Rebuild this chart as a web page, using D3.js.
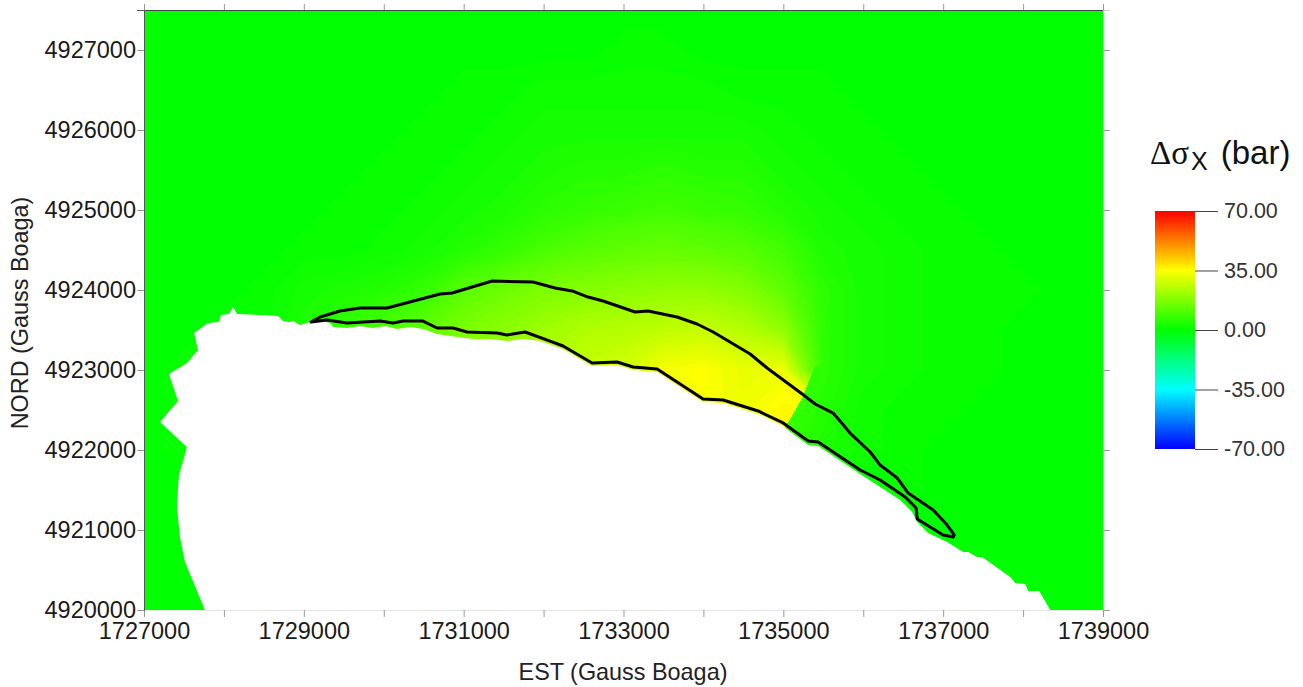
<!DOCTYPE html>
<html>
<head>
<meta charset="utf-8">
<script src="https://cdnjs.cloudflare.com/ajax/libs/d3/7.8.5/d3.min.js"></script>
<style>
  html, body { margin: 0; padding: 0; background: #fff; }
  svg { display: block; font-family: "Liberation Sans", Arial, sans-serif; }
</style>
</head>
<body>
<div id="chart"></div>
<script>
// map extent and tick values
var xDomain = [1727000, 1739000];
var yDomain = [4920000, 4927500];
var xTicks = [1727000, 1728000, 1729000, 1730000, 1731000, 1732000, 1733000, 1734000, 1735000, 1736000, 1737000, 1738000, 1739000];
var xTickLabels = [1727000, 1729000, 1731000, 1733000, 1735000, 1737000, 1739000];
var yTicks = [4920000, 4921000, 4922000, 4923000, 4924000, 4925000, 4926000, 4927000];
var legendTicks = [70, 35, 0, -35, -70];

// stress field in bar: 500 m grid, top row first
var gridX = [1727000, 1727500, 1728000, 1728500, 1729000, 1729500, 1730000, 1730500, 1731000, 1731500, 1732000, 1732500, 1733000, 1733500, 1734000, 1734500, 1735000, 1735500, 1736000, 1736500, 1737000, 1737500, 1738000, 1738500, 1739000];
var gridY = [4927500, 4927000, 4926500, 4926000, 4925500, 4925000, 4924500, 4924000, 4923500, 4923000, 4922500, 4922000, 4921500, 4921000, 4920500, 4920000];
var fieldValues = [
  [0, 0, 0, 0, 0, 0, 0, 0, 0, 0, 0, 0, 0, 0, 0, 0, 0, 0, 0, 0, 0, 0, 0, 0, 0],
  [0, 0, 0, 0, 0, 0, 0, 0, 0, 0, 0, 0, 1, 1, 0, 0, 0, 0, 0, 0, 0, 0, 0, 0, 0],
  [0, 0, 0, 0, 0, 0, 0, 0, 1, 1, 2, 2, 2, 2, 2, 1, 1, 1, 0, 0, 0, 0, 0, 0, 0],
  [0, 0, 0, 0, 0, 0, 0, 1, 1, 2, 3, 3, 3, 3, 3, 3, 2, 1, 1, 0, 0, 0, 0, 0, 0],
  [0, 0, 0, 0, 0, 0, 1, 1, 2, 3, 4, 5, 5, 6, 5, 5, 3, 2, 1, 1, 0, 0, 0, 0, 0],
  [0, 0, 0, 0, 0, 1, 1, 2, 3, 4, 6, 7, 8, 9, 8, 7, 5, 3, 2, 1, 1, 0, 0, 0, 0],
  [0, 0, 0, 0, 1, 1, 2, 3, 5, 7, 10, 12, 13, 14, 13, 12, 9, 4, 3, 2, 1, 1, 0, 0, 0],
  [0, 0, 0, 1, 3, 4, 5, 7, 12, 15, 17, 18, 19, 20, 20, 18, 13, 6, 3, 2, 1, 1, 1, 0, 0],
  [0, 0, 1, 1, 4, 7, 10, 13, 17, 19, 22, 24, 25, 26, 27, 25, 20, 6, 3, 2, 1, 1, 0, 0, 0],
  [0, 1, 2, 4, 7, 10, 12, 15, 18, 21, 24, 27, 29, 34, 35, 32, 33, 6, 3, 2, 1, 1, 0, 0, 0],
  [0, 1, 2, 4, 8, 10, 12, 15, 18, 21, 24, 27, 30, 33, 34, 33, 36, 34, 3, 1, 1, 1, 0, 0, 0],
  [0, 1, 2, 4, 8, 10, 12, 15, 18, 21, 24, 27, 30, 33, 34, 34, 36, 34, 2, 1, 1, 0, 0, 0, 0],
  [0, 0, 1, 2, 4, 6, 8, 10, 12, 14, 16, 18, 20, 20, 20, 20, 20, 20, 2, 1, 0, 0, 0, 0, 0],
  [0, 0, 0, 1, 2, 3, 4, 5, 6, 7, 8, 8, 8, 8, 8, 8, 8, 8, 1, 0, 0, 0, 0, 0, 0],
  [0, 0, 0, 0, 0, 0, 0, 0, 0, 0, 0, 0, 0, 0, 0, 0, 0, 0, 0, 0, 0, 0, 0, 0, 0],
  [0, 0, 0, 0, 0, 0, 0, 0, 0, 0, 0, 0, 0, 0, 0, 0, 0, 0, 0, 0, 0, 0, 0, 0, 0]
];

// the part east of the sharp edge near 1735200, drawn over the main field
var eastGridX = [1734500, 1735000, 1735500, 1736000, 1736500, 1737000, 1737500, 1738000, 1738500, 1739000];
var eastGridY = [4923500, 4923000, 4922500, 4922000, 4921500, 4921000, 4920500, 4920000];
var eastValues = [
  [6, 6, 5, 3, 2, 1, 1, 0, 0, 0],
  [7, 7, 6, 3, 2, 1, 1, 0, 0, 0],
  [8, 8, 5, 2, 1, 1, 0, 0, 0, 0],
  [8, 7, 4, 2, 1, 0, 0, 0, 0, 0],
  [6, 5, 3, 1, 1, 0, 0, 0, 0, 0],
  [3, 3, 2, 1, 0, 0, 0, 0, 0, 0],
  [0, 0, 0, 0, 0, 0, 0, 0, 0, 0],
  [0, 0, 0, 0, 0, 0, 0, 0, 0, 0]
];
var eastEdge = [[1735400, 4923050], [1735248, 4922662], [1735085, 4922375], [1734900, 4922100], [1734800, 4920000], [1739000, 4920000], [1739000, 4923050]];

// coast line (white land polygon), west to east
var coastLine = [
  [1727763, 4920000], [1727513, 4920600], [1727451, 4920900], [1727413, 4921288], [1727426, 4921538], [1727438, 4921688],
  [1727538, 4922038], [1727200, 4922350], [1727426, 4922612], [1727313, 4922950], [1727538, 4923088], [1727676, 4923250],
  [1727626, 4923462], [1727801, 4923588], [1727939, 4923600], [1727964, 4923688], [1728064, 4923700], [1728114, 4923788],
  [1728164, 4923700], [1728477, 4923688], [1728677, 4923675], [1728740, 4923612], [1728827, 4923600], [1728865, 4923612],
  [1728952, 4923562], [1729078, 4923600], [1729228, 4923612], [1729328, 4923588], [1729366, 4923538], [1729541, 4923525],
  [1729703, 4923550], [1729866, 4923525], [1730016, 4923550], [1730167, 4923512], [1730329, 4923538], [1730492, 4923512],
  [1730667, 4923450], [1730917, 4923412], [1731118, 4923388], [1731331, 4923388], [1731543, 4923362], [1731744, 4923388],
  [1731956, 4923362], [1732244, 4923262], [1732607, 4923050], [1732920, 4923062], [1733120, 4923000], [1733421, 4922975],
  [1733996, 4922600], [1734247, 4922588], [1734685, 4922450], [1734998, 4922300], [1735123, 4922200], [1735311, 4922062],
  [1735436, 4922050], [1735962, 4921700], [1736462, 4921375], [1736612, 4921225], [1736675, 4921100], [1736813, 4920962],
  [1737050, 4920850], [1737251, 4920725], [1737313, 4920725], [1737426, 4920662], [1737488, 4920662], [1737839, 4920412],
  [1737901, 4920338], [1738027, 4920325], [1738064, 4920238], [1738202, 4920238], [1738340, 4920000]
];

// black outline of the area, tip then upper side then lower side back
var areaOutline = [
  [1729090, 4923600], [1729203, 4923662], [1729453, 4923738], [1729703, 4923775], [1730041, 4923775], [1730705, 4923950],
  [1730855, 4923962], [1731356, 4924112], [1731869, 4924100], [1732144, 4924025], [1732357, 4923988], [1732557, 4923912],
  [1732745, 4923862], [1733145, 4923725], [1733308, 4923738], [1733671, 4923662], [1733921, 4923575], [1734122, 4923475],
  [1734585, 4923200], [1734797, 4923025], [1735236, 4922700], [1735398, 4922575], [1735624, 4922462], [1735836, 4922212],
  [1736087, 4921975], [1736212, 4921812], [1736425, 4921650], [1736562, 4921462], [1736875, 4921250], [1737050, 4921062],
  [1737138, 4920938], [1737126, 4920912], [1737000, 4920938], [1736675, 4921138], [1736662, 4921275], [1736525, 4921412],
  [1736212, 4921625], [1735962, 4921750], [1735436, 4922100], [1735311, 4922112], [1734998, 4922338], [1734685, 4922488],
  [1734247, 4922625], [1733996, 4922638], [1733421, 4923012], [1733120, 4923038], [1732920, 4923100], [1732607, 4923088],
  [1732244, 4923300], [1732081, 4923362], [1731769, 4923475], [1731543, 4923438], [1731418, 4923462], [1731043, 4923475],
  [1730867, 4923525], [1730667, 4923525], [1730492, 4923612], [1730242, 4923612], [1730116, 4923588], [1729954, 4923612],
  [1729541, 4923588], [1729290, 4923625]
];

// set the svg area and the plot margins
var svgWidth = 1303;
var svgHeight = 687;
var margin = { top: 10, right: 200, bottom: 77, left: 144 };
var width = svgWidth - margin.left - margin.right;
var height = svgHeight - margin.top - margin.bottom;

var svg = d3.select("#chart")
  .append("svg")
  .attr("width", svgWidth)
  .attr("height", svgHeight);

var xScale = d3.scaleLinear().domain(xDomain).range([0, width]);
var yScale = d3.scaleLinear().domain(yDomain).range([height, 0]);

// green at zero, yellow at 35, the usual rainbow
var colorScale = d3.scaleLinear()
  .domain([-70, -35, 0, 35, 70])
  .range(["#0000ff", "#00ffff", "#00ff00", "#ffff00", "#ff0000"]);

var defs = svg.append("defs");
defs.append("clipPath").attr("id", "plotClip")
  .append("rect").attr("width", width).attr("height", height);
defs.append("clipPath").attr("id", "eastClip")
  .append("polygon")
  .attr("points", eastEdge.map(d => [xScale(d[0]), yScale(d[1])].join(",")).join(" "));

var chartGroup = svg.append("g")
  .attr("transform", `translate(${margin.left}, ${margin.top})`);

// draw one value table as filled contour bands
function drawField(parent, xs, ys, rows) {
  // one extra row/column on each side so the bands run past the plot edge
  var nx = xs.length + 2;
  var ny = ys.length + 2;
  var flat = [];
  for (var j = -1; j <= ys.length; j++) {
    var row = rows[Math.max(0, Math.min(ys.length - 1, j))];
    for (var i = -1; i <= xs.length; i++) {
      flat.push(row[Math.max(0, Math.min(xs.length - 1, i))]);
    }
  }
  var stepX = xs[1] - xs[0];
  var stepY = ys[1] - ys[0];
  var bands = d3.contours().size([nx, ny]).thresholds(d3.range(0.5, 37, 1))(flat);
  // contour coordinates have the grid node at index + 0.5
  var project = d3.geoTransform({
    point: function(x, y) {
      this.stream.point(xScale(xs[0] + (x - 1.5) * stepX), yScale(ys[0] + (y - 1.5) * stepY));
    }
  });
  parent.selectAll("path")
    .data(bands)
    .enter()
    .append("path")
    .attr("d", d3.geoPath(project))
    .attr("fill", d => colorScale(d.value + 0.5));
}

var fieldGroup = chartGroup.append("g")
  .attr("clip-path", "url(#plotClip)")
  .style("filter", "blur(0.6px)");

fieldGroup.append("rect")
  .attr("width", width)
  .attr("height", height)
  .attr("fill", colorScale(0));

drawField(fieldGroup.append("g"), gridX, gridY, fieldValues);

var eastGroup = fieldGroup.append("g").attr("clip-path", "url(#eastClip)");
eastGroup.append("rect")
  .attr("width", width)
  .attr("height", height)
  .attr("fill", colorScale(0));
drawField(eastGroup.append("g"), eastGridX, eastGridY, eastValues);

// land on top of the field
var lineGen = d3.line().x(d => xScale(d[0])).y(d => yScale(d[1]));

chartGroup.append("path")
  .attr("d", lineGen(coastLine) + "Z")
  .attr("fill", "#fff");

chartGroup.append("path")
  .attr("d", lineGen(areaOutline) + "Z")
  .attr("fill", "none")
  .attr("stroke", "#000")
  .attr("stroke-width", 3)
  .attr("stroke-linejoin", "round");

// axes
var bottomAxis = d3.axisBottom(xScale)
  .tickValues(xTicks)
  .tickSize(7)
  .tickPadding(5)
  .tickFormat(d => xTickLabels.indexOf(d) >= 0 ? d3.format("d")(d) : "");
var topAxis = d3.axisTop(xScale).tickValues(xTicks).tickSize(6).tickFormat("");
var leftAxis = d3.axisLeft(yScale)
  .tickValues(yTicks)
  .tickSize(7)
  .tickPadding(1)
  .tickFormat(d3.format("d"));
var rightAxis = d3.axisRight(yScale).tickValues(yTicks).tickSize(7).tickFormat("");

function styleAxis(g, domainColor) {
  g.select(".domain").attr("stroke", domainColor).attr("stroke-width", 1);
  g.selectAll(".tick line").attr("stroke", "#999");
  g.selectAll(".tick text")
    .attr("font-family", '"Liberation Sans", Arial, sans-serif')
    .attr("font-size", "23.5px")
    .attr("fill", "#1a1a1a");
}

chartGroup.append("g").attr("transform", `translate(0, ${height})`).call(bottomAxis).call(styleAxis, "#e4e4e4");
chartGroup.append("g").call(topAxis).call(styleAxis, "#444");
chartGroup.append("g").call(leftAxis).call(styleAxis, "#555");
chartGroup.append("g").attr("transform", `translate(${width}, 0)`).call(rightAxis).call(styleAxis, "#ccc");

// axis titles
chartGroup.append("text")
  .attr("x", 623 - margin.left)
  .attr("y", 680 - margin.top)
  .attr("text-anchor", "middle")
  .attr("font-size", "23.4px")
  .attr("fill", "#222")
  .text("EST (Gauss Boaga)");

chartGroup.append("text")
  .attr("transform", `translate(${28 - margin.left}, ${313 - margin.top}) rotate(-90)`)
  .attr("text-anchor", "middle")
  .attr("font-size", "23.4px")
  .attr("fill", "#222")
  .text("NORD (Gauss Boaga)");

// colour bar legend
var legendGroup = svg.append("g").attr("transform", "translate(1155, 211)");
var legendWidth = 40;
var legendHeight = 238;
var legendScale = d3.scaleLinear().domain([-70, 70]).range([legendHeight, 0]);

var gradient = defs.append("linearGradient")
  .attr("id", "legendGradient")
  .attr("x1", 0).attr("x2", 0).attr("y1", 1).attr("y2", 0);
gradient.selectAll("stop")
  .data(colorScale.domain())
  .enter()
  .append("stop")
  .attr("offset", d => (d + 70) / 140)
  .attr("stop-color", d => colorScale(d));

legendGroup.append("rect")
  .attr("width", legendWidth)
  .attr("height", legendHeight)
  .attr("fill", "url(#legendGradient)");

legendGroup.append("g")
  .attr("transform", `translate(${legendWidth}, 0)`)
  .call(d3.axisRight(legendScale).tickValues(legendTicks).tickSize(23).tickPadding(6).tickFormat(d => d.toFixed(2)))
  .call(g => g.select(".domain").remove())
  .call(g => g.selectAll(".tick line").attr("stroke", "#444"))
  .call(g => g.selectAll(".tick text")
    .attr("font-family", '"Liberation Sans", Arial, sans-serif')
    .attr("font-size", "21.5px")
    .attr("fill", "#333"));

// legend title with the lowered x
var legendTitle = svg.append("text")
  .attr("x", 1150)
  .attr("y", 164)
  .attr("font-size", "33px")
  .attr("fill", "#111");
legendTitle.append("tspan").attr("font-family", '"Liberation Serif", serif').text("\u0394\u03c3");
legendTitle.append("tspan").attr("dy", 6).attr("dx", 2).attr("font-size", "25px").text("X");
legendTitle.append("tspan").attr("dy", -6).attr("dx", 13).text("(bar)");
</script>
</body>
</html>
